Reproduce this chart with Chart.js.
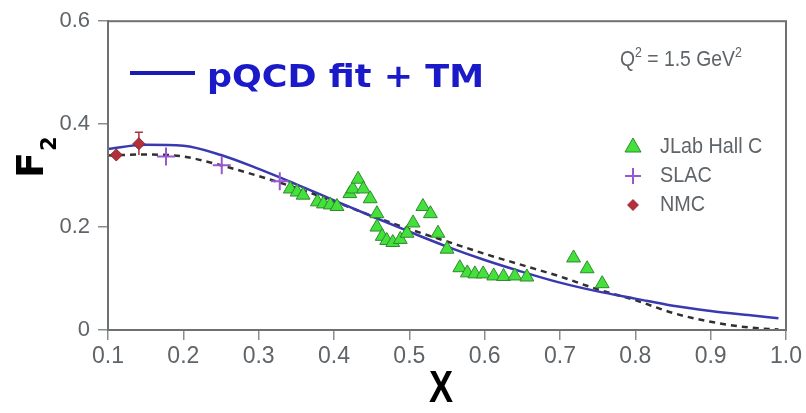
<!DOCTYPE html>
<html>
<head>
<meta charset="utf-8">
<script src="https://cdn.jsdelivr.net/npm/chart.js@4/dist/chart.umd.min.js"></script>
<style>
  html, body { margin: 0; padding: 0; background: #fff; }
  canvas { display: block; }
</style>
</head>
<body>
<canvas id="f2Chart" width="806" height="413"></canvas>
<script>
// ---- data ----
const jlabX = [0.342, 0.351, 0.359, 0.378, 0.386, 0.395, 0.404, 0.421, 0.425, 0.432, 0.439, 0.448,
  0.457, 0.457, 0.464, 0.470, 0.478, 0.488, 0.497, 0.505, 0.518, 0.528, 0.538, 0.550,
  0.567, 0.577, 0.587, 0.598, 0.612, 0.625, 0.640, 0.656, 0.718, 0.736, 0.756];
const jlabF2 = [0.274, 0.268, 0.262, 0.249, 0.245, 0.243, 0.240, 0.265, 0.274, 0.293, 0.274, 0.255,
  0.226, 0.200, 0.182, 0.174, 0.170, 0.176, 0.188, 0.208, 0.240, 0.226, 0.188, 0.157,
  0.121, 0.111, 0.109, 0.109, 0.105, 0.104, 0.105, 0.103, 0.140, 0.119, 0.090];

const slacX = [0.177, 0.251, 0.328];
const slacF2 = [0.337, 0.320, 0.289];

const nmcX = [0.111, 0.141];
const nmcF2 = [0.340, 0.362];
const nmcErr = [0.0, 0.022];

// fit curves
const fitX = [0.10, 0.15, 0.20, 0.25, 0.30, 0.35, 0.40, 0.45, 0.50, 0.55, 0.60, 0.65, 0.70, 0.75, 0.80, 0.85, 0.90, 0.95, 0.99];
const fitTM = [0.352, 0.360, 0.358, 0.340, 0.313, 0.283, 0.252, 0.221, 0.191, 0.162, 0.136, 0.113, 0.092, 0.075, 0.061, 0.047, 0.037, 0.029, 0.023];
const fitNoTM = [0.339, 0.341, 0.337, 0.320, 0.299, 0.276, 0.250, 0.222, 0.196, 0.172, 0.148, 0.126, 0.104, 0.079, 0.058, 0.033, 0.016, 0.005, 0.001];

const xTicks = ['0.1', '0.2', '0.3', '0.4', '0.5', '0.6', '0.7', '0.8', '0.9', '1.0'];
const yTicks = ['0', '0.2', '0.4', '0.6'];

const pts = (xs, ys) => xs.map((x, i) => ({ x: x, y: ys[i] }));

const sans = "'Liberation Sans', Arial, sans-serif";
const grey = '#5f6468';

// text squeezed horizontally to look condensed
function narrowText(ctx, s, x, y, sx) {
  ctx.save();
  ctx.translate(x, y);
  ctx.scale(sx, 1);
  ctx.fillText(s, 0, 0);
  ctx.restore();
  return ctx.measureText(s).width * sx;
}

// ---- extra drawing: frame, error bars, labels, legend ----
const decor = {
  id: 'decor',
  beforeDatasetsDraw(chart) {
    const { ctx, scales: { x, y } } = chart;
    // NMC error bars
    ctx.save();
    ctx.strokeStyle = '#a8323c';
    ctx.lineWidth = 1.5;
    nmcX.forEach((v, i) => {
      if (!nmcErr[i]) return;
      const px = x.getPixelForValue(v);
      const top = y.getPixelForValue(nmcF2[i] + nmcErr[i]);
      const bot = y.getPixelForValue(nmcF2[i] - nmcErr[i]);
      ctx.beginPath();
      ctx.moveTo(px, top); ctx.lineTo(px, bot);
      ctx.moveTo(px - 4, top); ctx.lineTo(px + 4, top);
      ctx.stroke();
    });
    ctx.restore();
  },
  afterDraw(chart) {
    const { ctx, chartArea: a } = chart;
    ctx.save();

    // frame around plot
    ctx.strokeStyle = '#6e7174';
    ctx.lineWidth = 2;
    ctx.strokeRect(a.left, a.top, a.right - a.left, a.bottom - a.top);

    // y axis title F2 (rotated)
    ctx.fillStyle = '#000';
    ctx.translate(43, 178);
    ctx.rotate(-Math.PI / 2);
    ctx.textBaseline = 'alphabetic';
    ctx.textAlign = 'left';
    ctx.font = 'bold 38px "DejaVu Sans", sans-serif';
    ctx.fillText('F', 0, 0);
    const fw = ctx.measureText('F').width;
    ctx.font = 'bold 21px "DejaVu Sans", sans-serif';
    ctx.fillText('2', fw + 1, 13);
    ctx.setTransform(1, 0, 0, 1, 0, 0);

    // x axis title
    ctx.font = 'bold 44px ' + sans;
    narrowText(ctx, 'X', 429, 402, 0.82);

    // fit legend
    ctx.strokeStyle = '#1a1ab4';
    ctx.lineWidth = 4;
    ctx.beginPath();
    ctx.moveTo(130, 73); ctx.lineTo(195, 73);
    ctx.stroke();
    ctx.fillStyle = '#1a1ac8';
    ctx.font = 'bold 32px "DejaVu Sans", sans-serif';
    const txt = 'pQCD fit + TM';
    const w = ctx.measureText(txt).width;
    narrowText(ctx, txt, 207, 87, 277 / w);

    // Q^2 label
    ctx.fillStyle = grey;
    let cx = 620;
    const seg = (s, dy, f) => {
      ctx.font = f;
      cx += narrowText(ctx, s, cx, 66 + dy, 0.88);
    };
    seg('Q', 0, '22px ' + sans);
    seg('2', -9, '14px ' + sans);
    seg(' = 1.5 GeV', 0, '22px ' + sans);
    seg('2', -9, '14px ' + sans);

    // data legend
    ctx.textBaseline = 'middle';
    // triangle
    ctx.fillStyle = '#44e03c';
    ctx.strokeStyle = '#2f8a2c';
    ctx.lineWidth = 1;
    ctx.beginPath();
    ctx.moveTo(633, 138); ctx.lineTo(641, 152); ctx.lineTo(625, 152); ctx.closePath();
    ctx.fill(); ctx.stroke();
    // cross
    ctx.strokeStyle = '#9a58d0';
    ctx.lineWidth = 2;
    ctx.beginPath();
    ctx.moveTo(633, 168); ctx.lineTo(633, 184);
    ctx.moveTo(625, 176); ctx.lineTo(641, 176);
    ctx.stroke();
    // diamond
    ctx.fillStyle = '#b0303c';
    ctx.beginPath();
    ctx.moveTo(633, 199); ctx.lineTo(639, 205); ctx.lineTo(633, 211); ctx.lineTo(627, 205); ctx.closePath();
    ctx.fill();
    ctx.fillStyle = grey;
    ctx.font = '22px ' + sans;
    narrowText(ctx, 'JLab Hall C', 660, 147, 0.9);
    narrowText(ctx, 'SLAC', 660, 176, 0.9);
    narrowText(ctx, 'NMC', 660, 205, 0.9);

    ctx.restore();
  }
};

new Chart(document.getElementById('f2Chart'), {
  type: 'scatter',
  data: {
    datasets: [
      {
        label: 'JLab Hall C',
        data: pts(jlabX, jlabF2),
        pointStyle: 'triangle',
        pointRadius: 8,
        backgroundColor: '#44e03c',
        borderColor: '#2f8a2c',
        borderWidth: 1
      },
      {
        label: 'NMC',
        data: pts(nmcX, nmcF2),
        pointStyle: 'rectRot',
        pointRadius: 6,
        backgroundColor: '#b0303c',
        borderColor: '#8a2430',
        borderWidth: 1
      },
      {
        label: 'SLAC',
        data: pts(slacX, slacF2),
        pointStyle: 'cross',
        pointRadius: 9,
        borderColor: '#9a58d0',
        borderWidth: 2
      },
      {
        label: 'pQCD fit + TM',
        data: pts(fitX, fitTM),
        showLine: true,
        pointRadius: 0,
        borderColor: '#3a3ab0',
        borderWidth: 2.5,
        cubicInterpolationMode: 'monotone'
      },
      {
        label: 'pQCD fit',
        data: pts(fitX, fitNoTM),
        showLine: true,
        pointRadius: 0,
        borderColor: '#303030',
        borderWidth: 2.5,
        borderDash: [6, 5],
        cubicInterpolationMode: 'monotone'
      }
    ]
  },
  options: {
    responsive: false,
    animation: false,
    layout: { padding: { top: 17, right: 20, left: 0, bottom: 0 } },
    plugins: { legend: { display: false }, tooltip: { enabled: false } },
    scales: {
      x: {
        type: 'linear',
        min: 0.1,
        max: 1.0,
        afterFit: s => { s.height = 83; },
        grid: { drawOnChartArea: false, drawTicks: true, tickLength: 10, color: '#8a8d90', lineWidth: 1.5 },
        border: { color: '#6e7174', width: 2 },
        ticks: {
          stepSize: 0.1,
          padding: 3,
          color: grey,
          font: { family: sans, size: 23 },
          callback: (v, i) => xTicks[i]
        }
      },
      y: {
        min: 0,
        max: 0.6,
        afterFit: s => { s.width = 108; },
        grid: { drawOnChartArea: false, drawTicks: true, tickLength: 10, color: '#8a8d90', lineWidth: 1.5 },
        border: { color: '#6e7174', width: 2 },
        ticks: {
          stepSize: 0.2,
          padding: 8,
          color: grey,
          font: { family: sans, size: 22 },
          callback: (v, i) => yTicks[i]
        }
      }
    }
  },
  plugins: [decor]
});
</script>
</body>
</html>
